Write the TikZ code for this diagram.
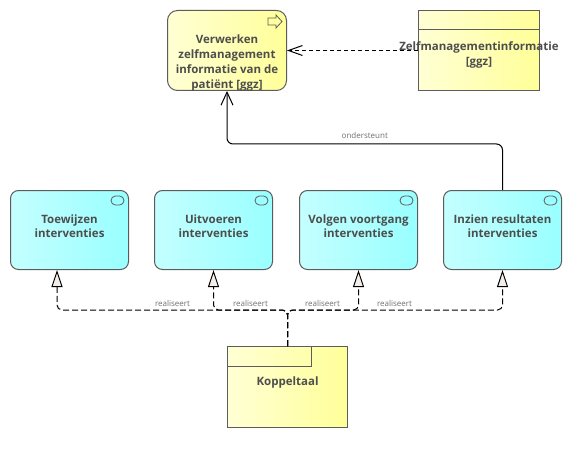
\documentclass[tikz,border=0pt]{standalone}
\usepackage{fontspec}
\setmainfont{Open Sans}
\usetikzlibrary{calc,arrows.meta}

\definecolor{edge}{HTML}{5C5C5C}
\definecolor{ink}{HTML}{4D4D4D}
\definecolor{lbl}{HTML}{707070}
\definecolor{yelL}{HTML}{FFFFD4}
\definecolor{yelR}{HTML}{FFFF99}
\definecolor{cyaL}{HTML}{C4FFFF}
\definecolor{cyaR}{HTML}{99FFFF}
\definecolor{tri}{HTML}{F4EEEA}

\tikzset{
  box/.style={draw=edge, line width=1pt, anchor=north west, inner sep=0pt, text=ink, align=center, font=\bfseries\fontsize{11.5}{14}\selectfont},
  service/.style={box, rounded corners=8pt, minimum width=118pt, minimum height=79pt, left color=cyaL, right color=cyaR, text depth=8pt},
  process/.style={box, rounded corners=10pt, minimum width=119pt, minimum height=80pt, left color=yelL, right color=yelR},
  passive/.style={box, minimum width=121pt, minimum height=80pt, left color=yelL, right color=yelR},
  boxtext/.style={text=ink, align=center, font=\bfseries\fontsize{11.5}{15}\selectfont},
  rel/.style={text=lbl, font=\fontsize{8}{9}\selectfont},
  real/.style={draw=black, line width=1pt, dash pattern=on 6pt off 3pt, rounded corners=5pt, -{Triangle[length=17pt, width=11pt, fill=tri]}},
  serve/.style={draw=black, line width=1pt, rounded corners=6pt, -{Straight Barb[length=13pt, width=12pt]}},
  access/.style={draw=black, line width=1pt, dash pattern=on 4pt off 3pt, -{Straight Barb[length=14pt, width=10pt]}}
}

\begin{document}
\begin{tikzpicture}[x=1pt, y=-1pt]
\useasboundingbox[fill=white] (0,0) rectangle (572,457);

% top row
\draw node [process] (proc) at (167,10) {};
\draw node [boxtext] at ($ (proc.center)+(0,12.5)$) {Verwerken\\zelfmanagement\\informatie van de\\patiënt {[ggz]}};
\draw[edge, line width=0.8pt] ($ (proc.north east)+(-19,8)$) -- ($ (proc.north east)+(-11,8)$) -- ($ (proc.north east)+(-11,5)$) -- ($ (proc.north east)+(-5,11.5)$) -- ($ (proc.north east)+(-11,18)$) -- ($ (proc.north east)+(-11,15)$) -- ($ (proc.north east)+(-19,15)$) -- cycle;

\draw node [passive] (info) at (418,10) {};
\draw[edge, line width=1pt] ($ (info.north west)+(0,20)$) -- ($ (info.north east)+(0,20)$);
\draw node [boxtext] at ($ (info.center)+(0,4)$) {Zelfmanagementinformatie\\{}{[ggz]}};

\draw[access] (info.west |- proc.east) -- (proc.east);

% services
\draw node [service] (toewijzen) at (10,190) {Toewijzen\\interventies};
\draw node [service] (uitvoeren) at (154,190) {Uitvoeren\\interventies};
\draw node [service] (volgen) at (299,190) {Volgen voortgang\\interventies};
\draw node [service] (inzien) at (443,190) {Inzien resultaten\\interventies};
\foreach \s in {toewijzen,uitvoeren,volgen,inzien}
  \draw[edge, line width=0.8pt, rounded corners=4.5pt] ($ (\s.north east)+(-18,6)$) rectangle ($ (\s.north east)+(-5,15)$);

\draw[serve] (inzien.north) |- ($ (proc.south)+(0,53)$) -- (proc.south);
\draw node [rel] at ($ (proc.south)!0.5!(inzien.north)+(0,-5)$) {ondersteunt};

% component
\draw node [passive, minimum width=120pt, minimum height=81pt] (kop) at (227,346) {};
\draw[edge, line width=1pt] (kop.north west) rectangle ($ (kop.north west)+(84,20)$);
\draw node [boxtext] at ($ (kop.center)+(0,-4)$) {Koppeltaal};

\coordinate (bus) at ($ (kop.north)+(0,-36)$);
\foreach \s/\dx in {toewijzen/-12.5,uitvoeren/0,volgen/0,inzien/0}
  \draw[real] (kop.north) -- (bus) -| ($ (\s.south)+(\dx,0)$);
\foreach \dx in {-115,-37,35,107}
  \draw node [rel] at ($ (bus)+(\dx,-7)$) {realiseert};

\end{tikzpicture}
\end{document}
